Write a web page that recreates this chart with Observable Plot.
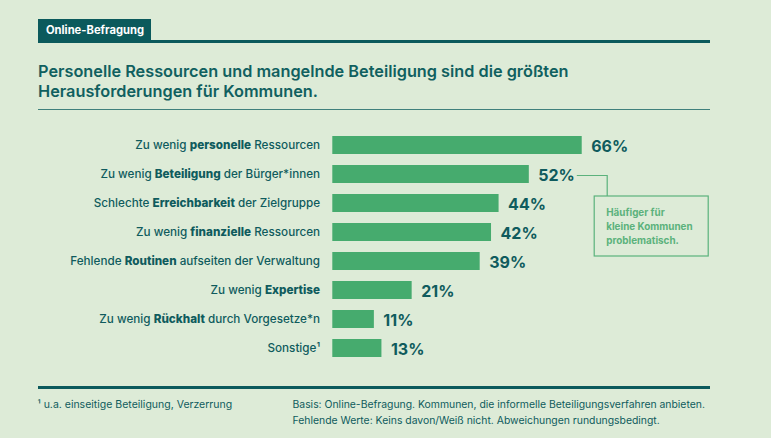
<!DOCTYPE html>
<html>
<head>
<meta charset="utf-8">
<script src="https://cdn.jsdelivr.net/npm/d3@7"></script>
<script src="https://cdn.jsdelivr.net/npm/@observablehq/plot@0.6"></script>
<style>
  html, body { margin: 0; padding: 0; background: #ddebd7; }
  body { width: 771px; height: 438px; position: relative; overflow: hidden; font-family: Inter, "Noto Sans", sans-serif; color: #0f5b5d; }
  .abs { position: absolute; }
  #tag { left: 38px; top: 19px; width: 113px; height: 22px; background: #0b5a5c; color: #fff; font-weight: 700; font-size: 11.2px; line-height: 22px; padding-left: 8px; box-sizing: border-box; }
  #rule1 { left: 38px; top: 40px; width: 672px; height: 2.5px; background: #0b5a5c; }
  #title { left: 38px; top: 61px; font-weight: 600; font-size: 16.3px; line-height: 20px; color: #10605f; white-space: nowrap; }
  #rule2 { left: 38px; top: 108.5px; width: 672px; height: 1px; background: #3f807c; }
  #chart { left: 0; top: 118px; }
  #rule3 { left: 38px; top: 385.5px; width: 672px; height: 3px; background: #0b5a5c; }
  #foot1 { left: 37.5px; top: 397px; font-size: 10.5px; line-height: 16px; white-space: nowrap; }
  #foot2 { left: 292.5px; top: 397px; font-size: 10.4px; line-height: 16px; white-space: nowrap; }
</style>
</head>
<body>
<div id="tag" class="abs">Online-Befragung</div>
<div id="rule1" class="abs"></div>
<div id="title" class="abs"></div>
<div id="rule2" class="abs"></div>
<div id="chart" class="abs"></div>
<div id="rule3" class="abs"></div>
<div id="foot1" class="abs"></div>
<div id="foot2" class="abs"></div>
<script>
// ---- data ----
const titleLines = [
  "Personelle Ressourcen und mangelnde Beteiligung sind die größten",
  "Herausforderungen für Kommunen."
];
const labelPrefix = ["Zu wenig ", "Zu wenig ", "Schlechte ", "Zu wenig ", "Fehlende ", "Zu wenig ", "Zu wenig ", "Sonstige¹"];
const labelBold   = ["personelle", "Beteiligung", "Erreichbarkeit", "finanzielle", "Routinen", "Expertise", "Rückhalt", ""];
const labelSuffix = [" Ressourcen", " der Bürger*innen", " der Zielgruppe", " Ressourcen", " aufseiten der Verwaltung", "", " durch Vorgesetze*n", ""];
const values = [66, 52, 44, 42, 39, 21, 11, 13];
const noteLines = ["Häufiger für", "kleine Kommunen", "problematisch."];
const noteIndex = 1; // annotation points at "Beteiligung"
const footLeft = ["¹ u.a. einseitige Beteiligung, Verzerrung"];
const footRight = [
  "Basis: Online-Befragung. Kommunen, die informelle Beteiligungsverfahren anbieten.",
  "Fehlende Werte: Keins davon/Weiß nicht. Abweichungen rundungsbedingt."
];

const categories = labelPrefix.map((p, i) => p + labelBold[i] + labelSuffix[i]);
const data = categories.map((c, i) => ({label: c, value: values[i]}));

document.getElementById("title").innerHTML = titleLines.join("<br>");
document.getElementById("foot1").innerHTML = footLeft.join("<br>");
document.getElementById("foot2").innerHTML = footRight.join("<br>");

const teal = "#0f5b5d";
const green = "#46ab6e";
const noteGreen = "#5bb27c";

function annotation(index, scales) {
  const x = scales.x, y = scales.y;
  const bw = y.bandwidth ? y.bandwidth() : 18.3;
  const g = d3.create("svg:g");
  const yc = y(categories[noteIndex]) + bw / 2 + 1.5;
  const boxRight = x(100) - 2;
  const boxLeft = boxRight - 114;
  const boxTop = y(categories[noteIndex + 1]) + 2;
  const boxBottom = y(categories[noteIndex + 3]) + 4;
  const cornerX = boxLeft + 13;
  const startX = x(values[noteIndex]) + 48;
  g.append("path")
    .attr("d", `M${startX},${yc}H${cornerX}V${boxTop}`)
    .attr("fill", "none").attr("stroke", noteGreen).attr("stroke-width", 1.2);
  g.append("rect")
    .attr("x", boxLeft).attr("y", boxTop)
    .attr("width", boxRight - boxLeft).attr("height", boxBottom - boxTop)
    .attr("fill", "none").attr("stroke", noteGreen).attr("stroke-width", 1.2);
  noteLines.forEach((t, i) => {
    g.append("text")
      .attr("x", boxLeft + 12).attr("y", boxTop + 16.5 + i * 14)
      .attr("dy", "0.35em")
      .attr("text-anchor", "start")
      .attr("fill", noteGreen)
      .attr("font-size", 9.9).attr("font-weight", 700)
      .text(t);
  });
  return g.node();
}

const plot = Plot.plot({
  width: 771,
  height: 252,
  marginTop: 7,
  marginBottom: 1,
  marginLeft: 332.3,
  marginRight: 60.8,
  style: {background: "transparent", fontFamily: "Inter, sans-serif", fontSize: "11.7px", color: teal, overflow: "visible"},
  x: {domain: [0, 100], axis: null},
  y: {domain: categories, paddingInner: 0.37, paddingOuter: 0.38, tickSize: 0, tickPadding: 12.7, label: null},
  marks: [
    Plot.barX(data, {x: "value", y: "label", fill: green}),
    Plot.text(data, {x: "value", y: "label", text: d => d.value + "%", textAnchor: "start", dx: 9, dy: 1.2, fontSize: 16, fontWeight: 700, fill: teal}),
    annotation
  ]
});
document.getElementById("chart").appendChild(plot);

// rich labels: regular + bold parts
const idx = new Map(categories.map((c, i) => [c, i]));
plot.querySelectorAll("text").forEach(t => {
  const i = idx.get(t.textContent);
  if (i === undefined) return;
  while (t.firstChild) t.removeChild(t.firstChild);
  const parts = [[labelPrefix[i], 500], [labelBold[i], 800], [labelSuffix[i], 500]];
  for (const [s, w] of parts) {
    if (!s) continue;
    const ts = document.createElementNS("http://www.w3.org/2000/svg", "tspan");
    ts.setAttribute("font-weight", w);
    ts.textContent = s;
    t.appendChild(ts);
  }
  t.setAttribute("fill", teal);
});
</script>
</body>
</html>
